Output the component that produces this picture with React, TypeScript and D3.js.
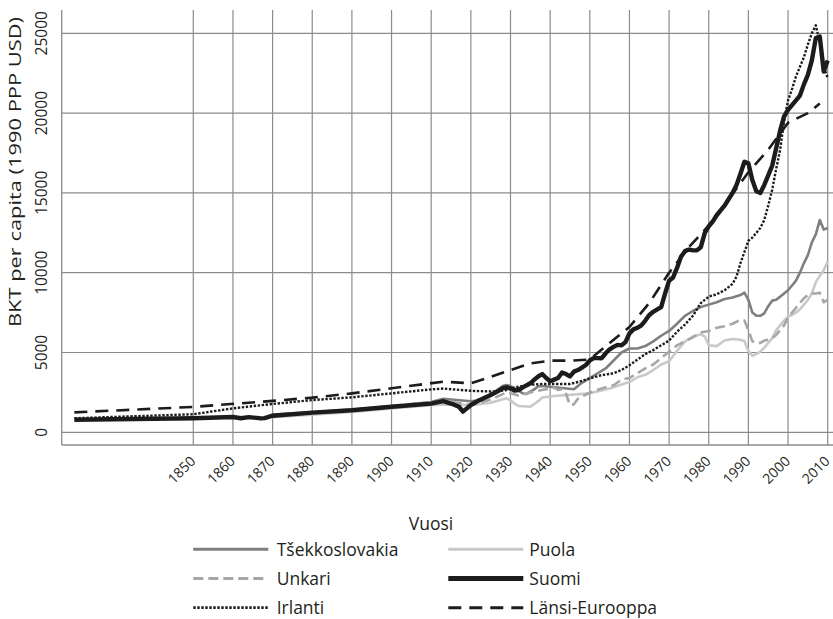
import React from 'react';
import * as d3 from 'd3';

type Pt = [number, number];

// BKT per capita, 1990 PPP USD (luettu kuvasta)
const tsekkoslovakia: Pt[] = [
  [1870, 1120], [1880, 1250], [1890, 1420], [1900, 1620], [1910, 1900], [1913, 2100],
  [1920, 1950], [1922, 2000], [1925, 2340], [1928, 2900], [1929, 2960], [1930, 2900],
  [1931, 2760], [1933, 2450], [1934, 2400], [1936, 2690], [1937, 2880], [1938, 2900],
  [1946, 2700], [1947, 2900], [1948, 3100], [1950, 3400], [1952, 3700], [1954, 4000],
  [1956, 4500], [1958, 5000], [1960, 5250], [1962, 5250], [1964, 5400], [1966, 5700],
  [1968, 6050], [1970, 6350], [1972, 6800], [1974, 7300], [1976, 7600], [1978, 7850],
  [1980, 8000], [1982, 8150], [1984, 8350], [1986, 8450], [1988, 8600], [1989, 8750],
  [1990, 8300], [1991, 7500], [1992, 7300], [1993, 7300], [1994, 7450], [1995, 7900],
  [1996, 8250], [1997, 8300], [1998, 8500], [1999, 8700], [2000, 8900], [2001, 9200],
  [2002, 9500], [2003, 10000], [2004, 10600], [2005, 11100], [2006, 11900], [2007, 12400],
  [2008, 13300], [2009, 12700], [2010, 12800],
];

const puola: Pt[] = [
  [1870, 950], [1880, 1100], [1890, 1280], [1900, 1500], [1910, 1690], [1913, 1740],
  [1920, 1700], [1925, 1850], [1929, 2130], [1930, 2000], [1931, 1800], [1932, 1650],
  [1935, 1600], [1937, 1950], [1938, 2180], [1941, 2270], [1950, 2440], [1955, 2750],
  [1958, 3000], [1960, 3150], [1962, 3450], [1964, 3600], [1966, 3900], [1968, 4250],
  [1970, 4450], [1972, 5100], [1974, 5700], [1976, 6000], [1978, 6150], [1979, 6000],
  [1980, 5450], [1982, 5400], [1984, 5750], [1986, 5850], [1988, 5800], [1989, 5700],
  [1990, 5100], [1991, 4800], [1992, 4900], [1993, 5050], [1994, 5300], [1995, 5600],
  [1996, 5900], [1997, 6400], [1998, 6700], [1999, 7000], [2000, 7250], [2001, 7350],
  [2002, 7500], [2003, 7700], [2004, 8000], [2005, 8300], [2006, 8700], [2007, 9400],
  [2008, 9800], [2009, 10150], [2010, 10700],
];

const unkari: Pt[] = [
  [1870, 1050], [1880, 1200], [1890, 1400], [1900, 1650], [1910, 1900], [1913, 2000],
  [1920, 1700], [1925, 2050], [1929, 2500], [1930, 2450], [1932, 2300], [1935, 2500],
  [1938, 2650], [1940, 2750], [1941, 2800], [1942, 2650], [1943, 2700], [1944, 2400],
  [1945, 1700], [1946, 1750], [1947, 2100], [1948, 2250], [1950, 2480], [1953, 2750],
  [1956, 2950], [1958, 3300], [1960, 3400], [1962, 3700], [1964, 4000], [1966, 4250],
  [1968, 4650], [1970, 5050], [1972, 5450], [1974, 5700], [1976, 5950], [1978, 6250],
  [1980, 6350], [1982, 6550], [1984, 6650], [1986, 6800], [1988, 7050], [1989, 7000],
  [1990, 6400], [1991, 5700], [1992, 5600], [1993, 5600], [1994, 5750], [1995, 5800],
  [1996, 5900], [1997, 6100], [1998, 6400], [1999, 6700], [2000, 7200], [2001, 7500],
  [2002, 7800], [2003, 8100], [2004, 8400], [2005, 8600], [2006, 8700], [2007, 8700],
  [2008, 8750], [2009, 8150], [2010, 8300],
];

const suomi: Pt[] = [
  [1820, 790], [1850, 880], [1860, 960], [1862, 880], [1864, 950], [1866, 900],
  [1867, 870], [1868, 890], [1870, 1040], [1880, 1230], [1890, 1380], [1900, 1600],
  [1910, 1800], [1913, 1950], [1915, 1800], [1917, 1600], [1918, 1300], [1919, 1500],
  [1920, 1710], [1922, 2000], [1925, 2340], [1927, 2600], [1928, 2760], [1929, 2820],
  [1930, 2750], [1931, 2620], [1932, 2650], [1933, 2800], [1935, 3070], [1936, 3300],
  [1937, 3500], [1938, 3650], [1939, 3400], [1940, 3200], [1941, 3300], [1942, 3400],
  [1943, 3750], [1944, 3650], [1945, 3500], [1946, 3800], [1947, 3900], [1948, 4050],
  [1949, 4220], [1950, 4500], [1951, 4650], [1952, 4650], [1953, 4640], [1954, 4950],
  [1955, 5200], [1956, 5350], [1957, 5480], [1958, 5450], [1959, 5650], [1960, 6200],
  [1961, 6450], [1962, 6550], [1963, 6700], [1964, 7000], [1965, 7350], [1966, 7550],
  [1967, 7700], [1968, 7850], [1969, 8700], [1970, 9500], [1971, 9700], [1972, 10300],
  [1973, 11000], [1974, 11350], [1975, 11450], [1976, 11400], [1977, 11400], [1978, 11600],
  [1979, 12500], [1980, 12900], [1981, 13200], [1982, 13600], [1983, 13900], [1984, 14200],
  [1985, 14600], [1986, 15000], [1987, 15500], [1988, 16200], [1989, 16950], [1990, 16850],
  [1991, 15800], [1992, 15100], [1993, 15000], [1994, 15500], [1995, 16100], [1996, 16700],
  [1997, 17800], [1998, 18900], [1999, 19800], [2000, 20200], [2001, 20500], [2002, 20800],
  [2003, 21100], [2004, 21800], [2005, 22400], [2006, 23300], [2007, 24700], [2008, 24800],
  [2009, 22600], [2010, 23300],
];

const irlanti: Pt[] = [
  [1820, 880], [1850, 1130], [1860, 1500], [1870, 1775], [1880, 2020], [1890, 2190],
  [1900, 2440], [1910, 2690], [1913, 2740], [1920, 2600], [1926, 2550], [1929, 2650],
  [1931, 2800], [1934, 2960], [1938, 3030], [1945, 3030], [1947, 3150], [1949, 3300],
  [1951, 3450], [1953, 3580], [1956, 3700], [1958, 3900], [1960, 4200], [1962, 4550],
  [1964, 4900], [1966, 5150], [1968, 5450], [1970, 5750], [1972, 6300], [1974, 6750],
  [1976, 7300], [1978, 8100], [1980, 8500], [1982, 8650], [1984, 8900], [1986, 9300],
  [1987, 9750], [1988, 10600], [1989, 11300], [1990, 12000], [1991, 12200], [1992, 12500],
  [1993, 12800], [1994, 13300], [1995, 14200], [1996, 15200], [1997, 16500], [1998, 17700],
  [1999, 19500], [2000, 20800], [2001, 21500], [2002, 22300], [2003, 22900], [2004, 23500],
  [2005, 24300], [2006, 25000], [2007, 25500], [2008, 24400], [2009, 22900], [2010, 22200],
];

const lansiEurooppa: Pt[] = [
  [1820, 1250], [1850, 1590], [1870, 1970], [1880, 2170], [1890, 2440], [1900, 2760],
  [1913, 3170], [1920, 3070], [1925, 3480], [1930, 3900], [1935, 4320], [1940, 4490],
  [1945, 4490], [1950, 4560], [1955, 5600], [1960, 6600], [1965, 8100], [1970, 10000],
  [1975, 11600], [1980, 12950], [1985, 14600], [1990, 16300], [1995, 17700], [2000, 19400],
  [2005, 20000], [2008, 20600],
];

const yTicks = [0, 5000, 10000, 15000, 20000, 25000];
const xTicks = [1850, 1860, 1870, 1880, 1890, 1900, 1910, 1920, 1930, 1940, 1950, 1960, 1970, 1980, 1990, 2000, 2010];

const series = [
  { name: 'Tšekkoslovakia', data: tsekkoslovakia, color: '#7f7f7f', width: 2.6, dash: null as string | null },
  { name: 'Puola', data: puola, color: '#c9c9c9', width: 2.6, dash: null },
  { name: 'Unkari', data: unkari, color: '#a6a6a6', width: 2.6, dash: '10,5' },
  { name: 'Suomi', data: suomi, color: '#1c1c1c', width: 4.4, dash: null },
  { name: 'Irlanti', data: irlanti, color: '#1c1c1c', width: 2.4, dash: '2.4,1.6' },
  { name: 'Länsi-Eurooppa', data: lansiEurooppa, color: '#1c1c1c', width: 2.6, dash: '13,8' },
];

// legendan järjestys (kaksi saraketta)
const legendOrder = ['Tšekkoslovakia', 'Puola', 'Unkari', 'Suomi', 'Irlanti', 'Länsi-Eurooppa'];

const W = 833;
const H = 619;
const plot = { left: 61.7, right: 833, top: 10, bottom: 445 };
const font = '"Open Sans", "Noto Sans", sans-serif';
const ink = '#231f20';
const gridColor = '#8c8c8c';

export default function App() {
  const x = d3.scaleLinear().domain([1850, 2010]).range([193.3, 827.7]);
  const y = d3.scaleLinear().domain([0, 25000]).range([432.3, 33.3]);
  const line = d3.line<Pt>().x(d => x(d[0])).y(d => y(d[1]));

  return (
    <svg width={W} height={H} style={{ position: 'absolute', left: 0, top: 0, background: '#fff' }}
      fontFamily={font}>
      {/* ruudukko */}
      {yTicks.map(t => (
        <line key={'h' + t} x1={plot.left} x2={plot.right} y1={y(t)} y2={y(t)}
          stroke={gridColor} strokeWidth={1.2} />
      ))}
      {xTicks.map(t => (
        <line key={'v' + t} x1={x(t)} x2={x(t)} y1={plot.top} y2={plot.bottom}
          stroke={gridColor} strokeWidth={1.2} />
      ))}
      <line x1={plot.left} x2={plot.left} y1={plot.top} y2={plot.bottom} stroke={gridColor} strokeWidth={1.3} />
      <line x1={plot.left} x2={plot.right} y1={plot.bottom} y2={plot.bottom} stroke={gridColor} strokeWidth={1.3} />

      {/* sarjat */}
      {series.map(s => (
        <path key={s.name} d={line(s.data) || ''} fill="none" stroke={s.color}
          strokeWidth={s.width} strokeDasharray={s.dash || undefined}
          strokeLinejoin="round" />
      ))}

      {/* y-akseli */}
      {yTicks.map(t => (
        <text key={'yl' + t} transform={`translate(47,${Math.max(y(t), 32)}) rotate(-90)`}
          textAnchor="middle" fontSize={15.5} fill={ink}>{t}</text>
      ))}
      <text transform="translate(21,172) rotate(-90)" textAnchor="middle" fontSize={17}
        fill={ink} textLength={310} lengthAdjust="spacingAndGlyphs">
        BKT per capita (1990 PPP USD)
      </text>

      {/* x-akseli */}
      {xTicks.map(t => (
        <text key={'xl' + t} transform={`translate(${x(t) + 3},462) rotate(-45)`}
          textAnchor="end" fontSize={14} fill={ink}>{t}</text>
      ))}
      <text x={431} y={530} textAnchor="middle" fontSize={17.5} fill={ink}>Vuosi</text>

      {/* legenda */}
      {legendOrder.map((name, i) => {
        const s = series.find(d => d.name === name)!;
        const col = i % 2;
        const row = Math.floor(i / 2);
        const x0 = col === 0 ? 193.3 : 448.3;
        const cy = 549.3 + row * 29.2;
        return (
          <g key={'lg' + name}>
            <line x1={x0} x2={x0 + 75} y1={cy} y2={cy} stroke={s.color}
              strokeWidth={s.width + 0.4} strokeDasharray={s.dash || undefined} />
            <text x={x0 + (col === 0 ? 83.4 : 81)} y={cy + 6.6} fontSize={17.5} fill={ink}>{name}</text>
          </g>
        );
      })}
    </svg>
  );
}
